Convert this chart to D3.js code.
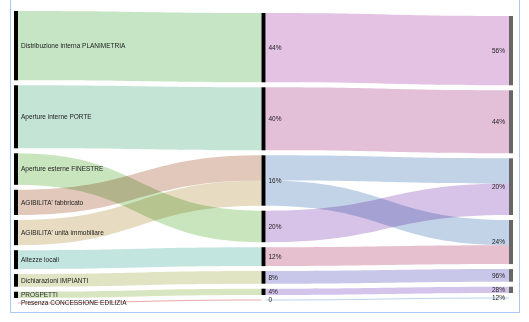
<!DOCTYPE html>
<html>
<head>
<meta charset="utf-8">
<script src="https://cdn.jsdelivr.net/npm/d3@7"></script>
<style>
  html, body { margin: 0; padding: 0; background: #fff; }
  svg { display: block; }
  text { font-family: "Liberation Sans", Arial, sans-serif; }
</style>
</head>
<body>
<svg id="chart" width="529" height="322"></svg>
<script>
// ---- data ----
const leftNodes = ["Distribuzione interna PLANIMETRIA", "Aperture interne PORTE", "Aperture esterne FINESTRE",
  "AGIBILITA' fabbricato", "AGIBILITA' unità immobiliare", "Altezze locali",
  "Dichiarazioni IMPIANTI", "PROSPETTI", "Presenza CONCESSIONE EDILIZIA"];
const middleNodes = ["44%", "40%", "16%", "20%", "12%", "8%", "4%", "0"];
const rightNodes = ["56%", "44%", "20%", "24%", "96%", "28%", "12%"];

// [sourceIndex, targetIndex, value]
const linksLeftMiddle = [[0,0,11],[1,1,10],[2,3,5],[3,2,4],[4,2,4],[5,4,3],[6,5,2],[7,6,1],[8,7,0]];
const linksMiddleRight = [[0,0,11],[1,1,10],[2,2,4],[2,3,4],[3,2,5],[4,3,3],[5,4,2],[6,5,1],[7,6,0]];

const colorsLeftMiddle = ["#c6e5c5", "#c4e4d6", "#c9e5bd", "#e2c8bb", "#e7dcc1", "#c3e5e0", "#e0e4c3", "#d7e6c0", "#e8a8a8"];
const colorsMiddleRight = ["#e3c2e3", "#e3bfd8", "#c3d3e7", "#c3d3e7", "#d8c3e8", "#e6c0cf", "#c8c7e9", "#d4c3eb", "#b8d4ee"];

// ---- layout ----
const svg = d3.select("#chart");
const columnTops = [11, 13, 16];
const nodePad = 5;
const nodeW = 4;
const xCol = d3.scaleLinear().domain([0, 2]).range([14, 509]);
const hScale = d3.scaleLinear().domain([0, 40]).range([0, 252]);

const columns = [leftNodes, middleNodes, rightNodes].map((names, c) =>
  names.map((name, i) => ({ name, col: c, idx: i, inV: 0, outV: 0, out: [], inc: [] })));

function addLinks(arr, colors, c) {
  return arr.map(([s, t, v], i) => {
    const l = { source: columns[c][s], target: columns[c + 1][t], value: v, color: colors[i] };
    l.source.outV += v; l.target.inV += v;
    l.source.out.push(l); l.target.inc.push(l);
    return l;
  });
}
const links = addLinks(linksLeftMiddle, colorsLeftMiddle, 0).concat(addLinks(linksMiddleRight, colorsMiddleRight, 1));

columns.forEach((col, c) => {
  let y = columnTops[c];
  col.forEach(n => {
    n.value = Math.max(n.inV, n.outV);
    n.x0 = xCol(c); n.x1 = n.x0 + nodeW;
    n.y0 = y; n.y1 = y + hScale(n.value);
    y = n.y1 + nodePad;
  });
});

columns.forEach(col => col.forEach(n => {
  n.out.sort((a, b) => a.target.y0 - b.target.y0);
  n.inc.sort((a, b) => a.source.y0 - b.source.y0);
  let y = n.y0;
  n.out.forEach(l => { l.sy0 = y; y += hScale(l.value); l.sy1 = y; });
  y = n.y0;
  n.inc.forEach(l => { l.ty0 = y; y += hScale(l.value); l.ty1 = y; });
}));

// ---- links ----
const gLinks = svg.append("g");
links.forEach(l => {
  const x0 = l.source.x1, x1 = l.target.x0, xm = (x0 + x1) / 2;
  if (l.value > 0) {
    const p = d3.path();
    p.moveTo(x0, l.sy0);
    p.bezierCurveTo(xm, l.sy0, xm, l.ty0, x1, l.ty0);
    p.lineTo(x1, l.ty1);
    p.bezierCurveTo(xm, l.ty1, xm, l.sy1, x0, l.sy1);
    p.closePath();
    gLinks.append("path").attr("d", p.toString()).attr("fill", l.color)
      .style("mix-blend-mode", "multiply");
  } else {
    const p = d3.path();
    p.moveTo(x0, l.sy0);
    p.bezierCurveTo(xm, l.sy0, xm, l.ty0, x1, l.ty0);
    gLinks.append("path").attr("d", p.toString()).attr("fill", "none")
      .attr("stroke", l.color).attr("stroke-width", 1);
  }
});

// ---- nodes ----
const nodeColors = ["#000000", "#000000", "#666666"];
columns.forEach((col, c) => col.forEach(n => {
  if (n.value > 0) {
    svg.append("rect").attr("x", n.x0).attr("y", n.y0)
      .attr("width", nodeW).attr("height", n.y1 - n.y0)
      .attr("fill", nodeColors[c]);
  }
}));

// ---- labels ----
columns.forEach((col, c) => col.forEach(n => {
  const right = c === 2;
  svg.append("text")
    .attr("x", right ? n.x0 - 4 : n.x1 + 3)
    .attr("y", (n.y0 + n.y1) / 2)
    .attr("dy", "0.35em")
    .attr("text-anchor", right ? "end" : "start")
    .attr("font-size", 6.5)
    .attr("fill", "#222")
    .text(n.name);
}));

// ---- frame ----
svg.append("rect").attr("x", 10.5).attr("y", -2).attr("width", 509).attr("height", 314.5)
  .attr("fill", "none").attr("stroke", "#aac8f0").attr("stroke-width", 1);
</script>
</body>
</html>
